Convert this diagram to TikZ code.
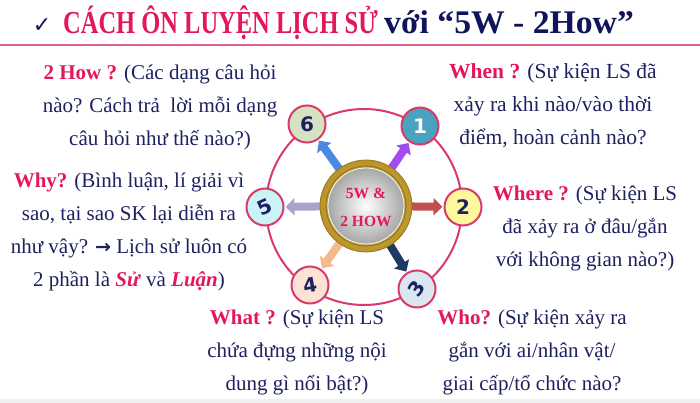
\documentclass[tikz,border=0pt]{standalone}
\usepackage{fontspec}
\setmainfont{Liberation Serif}
\newfontfamily\symfont{DejaVu Sans}
\usetikzlibrary{arrows.meta}
\definecolor{crim}{HTML}{E3175B}
\definecolor{navy}{HTML}{1E2160}
\definecolor{tnavy}{HTML}{10145A}
\definecolor{ringc}{HTML}{D93A6B}
\definecolor{pinkline}{HTML}{E0628F}
\definecolor{aOne}{HTML}{A24CF0}
\definecolor{aTwo}{HTML}{C0504D}
\definecolor{aThree}{HTML}{1F3864}
\definecolor{aFour}{HTML}{F7B88C}
\definecolor{aFive}{HTML}{A9A2CC}
\definecolor{aSix}{HTML}{4A88E6}
\definecolor{fOne}{HTML}{4AA2BE}
\definecolor{fTwo}{HTML}{FFF89C}
\definecolor{fThree}{HTML}{DAE6F0}
\definecolor{fFour}{HTML}{FCE3D3}
\definecolor{fFive}{HTML}{CBF4F8}
\definecolor{fSix}{HTML}{D6E3C0}
\definecolor{goldA}{HTML}{F2DC7A}
\definecolor{goldB}{HTML}{B8912A}
\definecolor{goldD}{HTML}{9C7A1E}
\newcommand{\lab}[1]{\textcolor{crim}{\textbf{#1}}}
\begin{document}
\begin{tikzpicture}[x=1pt,y=-1pt,
  txt/.style={inner sep=0pt, align=center, text=navy, font=\fontsize{21}{33}\selectfont},
  numc/.style={circle, draw=ringc, line width=2pt, minimum size=37pt, inner sep=0pt,
     font=\symfont\bfseries\fontsize{20}{20}\selectfont, text=navy},
  arr/.style={line width=8pt, -{Triangle[length=9pt,width=17pt]}, shorten >=1pt}]
\useasboundingbox (0,0) rectangle (700,403);
\fill[white] (0,0) rectangle (700,403);
\fill[black!6] (0,399) rectangle (700,403);
% title
\node[anchor=base, inner sep=0pt, text=tnavy, font=\symfont\fontsize{22}{22}\selectfont] (chk) at (42,33) {✓};
\node[anchor=base west, inner sep=0pt, text=crim, font=\bfseries\fontsize{32}{32}\selectfont] (t1) at (63,34) {\scalebox{0.765}[1]{CÁCH ÔN LUYỆN LỊCH SỬ}};
\node[anchor=base west, inner sep=0pt, text=tnavy, font=\bfseries\fontsize{33}{33}\selectfont] (t2) at ([xshift=6pt]t1.base east) {\scalebox{1.02}[1]{với “5W - 2How”}};
\draw[pinkline, line width=2.2pt] (0,45) -- (700,45);
% ring
\node[circle, draw=ringc, line width=2pt, minimum size=196pt, inner sep=0pt] (ring) at (364,207) {};
% centre
\coordinate (cc) at (366,206);
\node[circle, minimum size=92pt, inner sep=0pt] (c0) at (cc) {};
% small circles
\node[numc, fill=fSix] (n6) at (307,124) {6};
\node[numc, fill=fOne, text=white] (n1) at (420,126) {1};
\node[numc, fill=fTwo] (n2) at (463,207) {2};
\node[numc, fill=fThree] (n3) at (417,289) {\rotatebox{55}{3}};
\node[numc, fill=fFour] (n4) at (310,285) {\rotatebox{10}{4}};
\node[numc, fill=fFive] (n5) at (265,207) {\rotatebox{25}{5}};
% arrows
\draw[arr, draw=aOne] (cc) -- (n1);
\draw[arr, draw=aTwo] (cc) -- (n2);
\draw[arr, draw=aThree] (cc) -- (n3);
\draw[arr, draw=aFour] (cc) -- (n4);
\draw[arr, draw=aFive] (cc) -- (n5);
\draw[arr, draw=aSix] (cc) -- (n6);
% centre disc on top
\shade[inner color=goldA, outer color=goldB] (cc) circle[radius=46pt];
\draw[goldD, line width=0.8pt] (cc) circle[radius=46pt];
\draw[goldD, line width=1.2pt] (cc) circle[radius=40pt];
\shade[inner color=white, outer color=black!35] (cc) circle[radius=38.5pt];
\draw[white!80!goldA, line width=0.8pt] (cc) circle[radius=38pt];
\node[inner sep=0pt, text=crim, font=\bfseries\fontsize{15.5}{28}\selectfont, align=center] (ctext) at (366,207) {5W \&\\2 HOW};
% texts
\node[txt] (how) at (160,107) {\lab{2 How ?} (Các dạng câu hỏi\\nào? Cách trả\ \ lời mỗi dạng\\câu hỏi như thế nào?)};
\node[txt] (why) at (129,232) {\lab{Why?} (Bình luận, lí giải vì\\sao, tại sao SK lại diễn ra\\như vậy? {\symfont\bfseries\fontsize{19}{19}\selectfont →} Lịch sử luôn có\\2 phần là \textcolor{crim}{\textbf{\textit{Sử}}} và \textcolor{crim}{\textbf{\textit{Luận}}})};
\node[txt, font=\fontsize{21.5}{33}\selectfont] (when) at (553,106) {\lab{When ?} (Sự kiện LS đã\\xảy ra khi nào/vào thời\\điểm, hoàn cảnh nào?};
\node[txt] (where) at (585,228) {\lab{Where ?} (Sự kiện LS\\đã xảy ra ở đâu/gắn\\với không gian nào?)};
\node[txt] (what) at (297,352) {\lab{What ?} (Sự kiện LS\\chứa đựng những nội\\dung gì nổi bật?)};
\node[txt] (who) at (532,352) {\lab{Who?} (Sự kiện xảy ra\\gắn với ai/nhân vật/\\giai cấp/tổ chức nào?};
\end{tikzpicture}
\end{document}
